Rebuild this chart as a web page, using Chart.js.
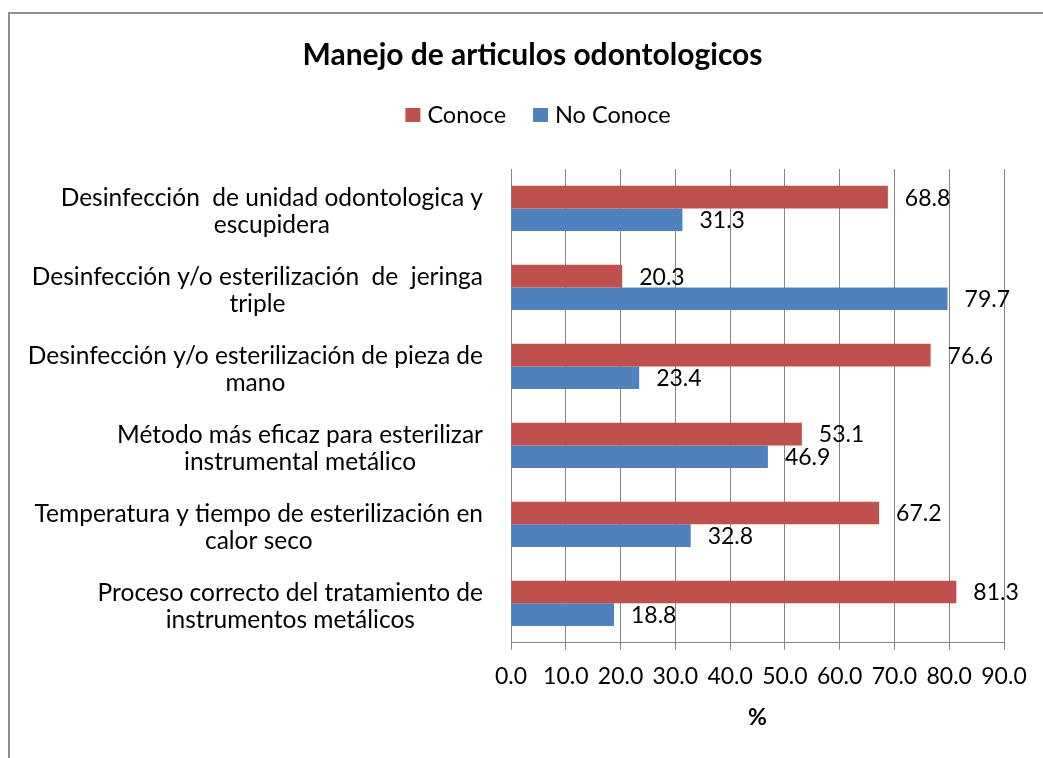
<!DOCTYPE html>
<html><head><meta charset="utf-8">
<script src="https://cdn.jsdelivr.net/npm/chart.js@4.4.0/dist/chart.umd.min.js"></script>
<style>html,body{margin:0;padding:0;background:#fff;}canvas{display:block;}</style>
</head><body>
<canvas id="c" width="1043" height="758"></canvas>
<script>
// ---- data ----
const categories = [
  ["Desinfección  de unidad odontologica y", "escupidera"],
  ["Desinfección y/o esterilización  de  jeringa", "triple"],
  ["Desinfección y/o esterilización de pieza de", "mano"],
  ["Método más eficaz para esterilizar", "instrumental metálico"],
  ["Temperatura y tiempo de esterilización en", "calor seco"],
  ["Proceso correcto del tratamiento de", "instrumentos metálicos"]
];
const seriesNames = ["Conoce", "No Conoce"];
const conoce   = [68.8, 20.3, 76.6, 53.1, 67.2, 81.3];
const noConoce = [31.3, 79.7, 23.4, 46.9, 32.8, 18.8];
const xTickValues = [0, 10, 20, 30, 40, 50, 60, 70, 80, 90];
const chartTitle = "Manejo de articulos odontologicos";
const xAxisTitle = "%";

// ---- style ----
const RED = "#C0504D", BLUE = "#4F81BD", GRID = "#868686";
const FONT = "Lato, 'Open Sans', sans-serif";
Chart.defaults.font.family = FONT;
Chart.defaults.color = "#000";

const deco = {
  id: "deco",
  beforeDraw(chart) {
    const ctx = chart.ctx;
    ctx.save();
    ctx.fillStyle = "#fff";
    ctx.fillRect(0, 0, chart.width, chart.height);
    ctx.restore();
  },
  afterDatasetsDraw(chart) {
    const ctx = chart.ctx;
    ctx.save();
    ctx.font = "23px " + FONT;
    ctx.fillStyle = "#000";
    ctx.textAlign = "left";
    ctx.textBaseline = "middle";
    chart.data.datasets.forEach((ds, di) => {
      const meta = chart.getDatasetMeta(di);
      meta.data.forEach((bar, i) => {
        ctx.fillText(ds.data[i].toFixed(1), bar.x + 17, bar.y + 1);
      });
    });
    ctx.restore();
  },
  afterDraw(chart) {
    const ctx = chart.ctx;
    const ys = chart.scales.y;
    ctx.save();
    // category labels: block right-aligned, lines centred within block
    ctx.font = "24.5px " + FONT;
    ctx.fillStyle = "#000";
    ctx.textBaseline = "middle";
    ctx.textAlign = "center";
    const right = ys.right - 28, lh = 27;
    chart.data.labels.forEach((lines, i) => {
      const cy = ys.getPixelForValue(i) + 3;
      const w = Math.max(...lines.map(l => ctx.measureText(l).width));
      const cx = right - w / 2;
      lines.forEach((l, k) => {
        ctx.fillText(l, cx, cy + (k - (lines.length - 1) / 2) * lh);
      });
    });
    // legend
    ctx.font = "23.5px " + FONT;
    ctx.textAlign = "left";
    const items = chart.data.datasets.map(d => ({text: d.label, color: d.backgroundColor, w: ctx.measureText(d.label).width}));
    const boxW = 15, boxH = 14, gapIn = 7, gapOut = 27;
    const total = items.reduce((s, it) => s + boxW + gapIn + it.w, 0) + gapOut * (items.length - 1);
    let x = 538 - total / 2;
    const ly = 115;
    items.forEach(it => {
      ctx.fillStyle = it.color;
      ctx.fillRect(x, ly - boxH / 2, boxW, boxH);
      ctx.fillStyle = "#000";
      ctx.fillText(it.text, x + boxW + gapIn, ly);
      x += boxW + gapIn + it.w + gapOut;
    });
    // outer frame
    ctx.strokeStyle = "#8e8e8e";
    ctx.lineWidth = 2;
    ctx.beginPath();
    ctx.moveTo(9, chart.height);
    ctx.lineTo(9, 13);
    ctx.lineTo(chart.width, 13);
    ctx.stroke();
    ctx.restore();
  }
};

new Chart(document.getElementById("c"), {
  type: "bar",
  data: {
    labels: categories,
    datasets: [
      {label: seriesNames[0], data: conoce, backgroundColor: RED, borderWidth: 0},
      {label: seriesNames[1], data: noConoce, backgroundColor: BLUE, borderWidth: 0}
    ]
  },
  options: {
    indexAxis: "y",
    responsive: false,
    animation: false,
    devicePixelRatio: 1,
    layout: {padding: {left: 61, right: 39, top: 0, bottom: 20}},
    datasets: {bar: {categoryPercentage: 0.573, barPercentage: 1.0}},
    plugins: {
      legend: {display: false},
      tooltip: {enabled: false},
      title: {
        display: true,
        text: chartTitle,
        color: "#000",
        font: {size: 30, weight: "bold", family: FONT, lineHeight: 1.2},
        padding: {top: 37, bottom: 96}
      }
    },
    scales: {
      x: {
        type: "linear",
        min: xTickValues[0],
        max: xTickValues[xTickValues.length - 1],
        afterBuildTicks(scale) { scale.ticks = xTickValues.map(v => ({value: v})); },
        ticks: {
          font: {size: 23, family: FONT, lineHeight: 1.2},
          color: "#000",
          padding: 13.2,
          maxRotation: 0,
          autoSkip: false,
          callback: v => Number(v).toFixed(1)
        },
        grid: {color: GRID, lineWidth: 1, drawTicks: true, tickLength: 7, tickColor: GRID},
        border: {color: GRID, width: 1},
        title: {
          display: true,
          text: xAxisTitle,
          color: "#000",
          font: {size: 23, weight: "bold", family: FONT, lineHeight: 1.2},
          padding: {top: 0.4, bottom: 6.2}
        }
      },
      y: {
        type: "category",
        offset: true,
        ticks: {display: false},
        grid: {display: false, drawTicks: false},
        border: {display: true, color: GRID, width: 1},
        afterFit(scale) { scale.width = 450; }
      }
    }
  },
  plugins: [deco]
});
</script>
</body></html>
